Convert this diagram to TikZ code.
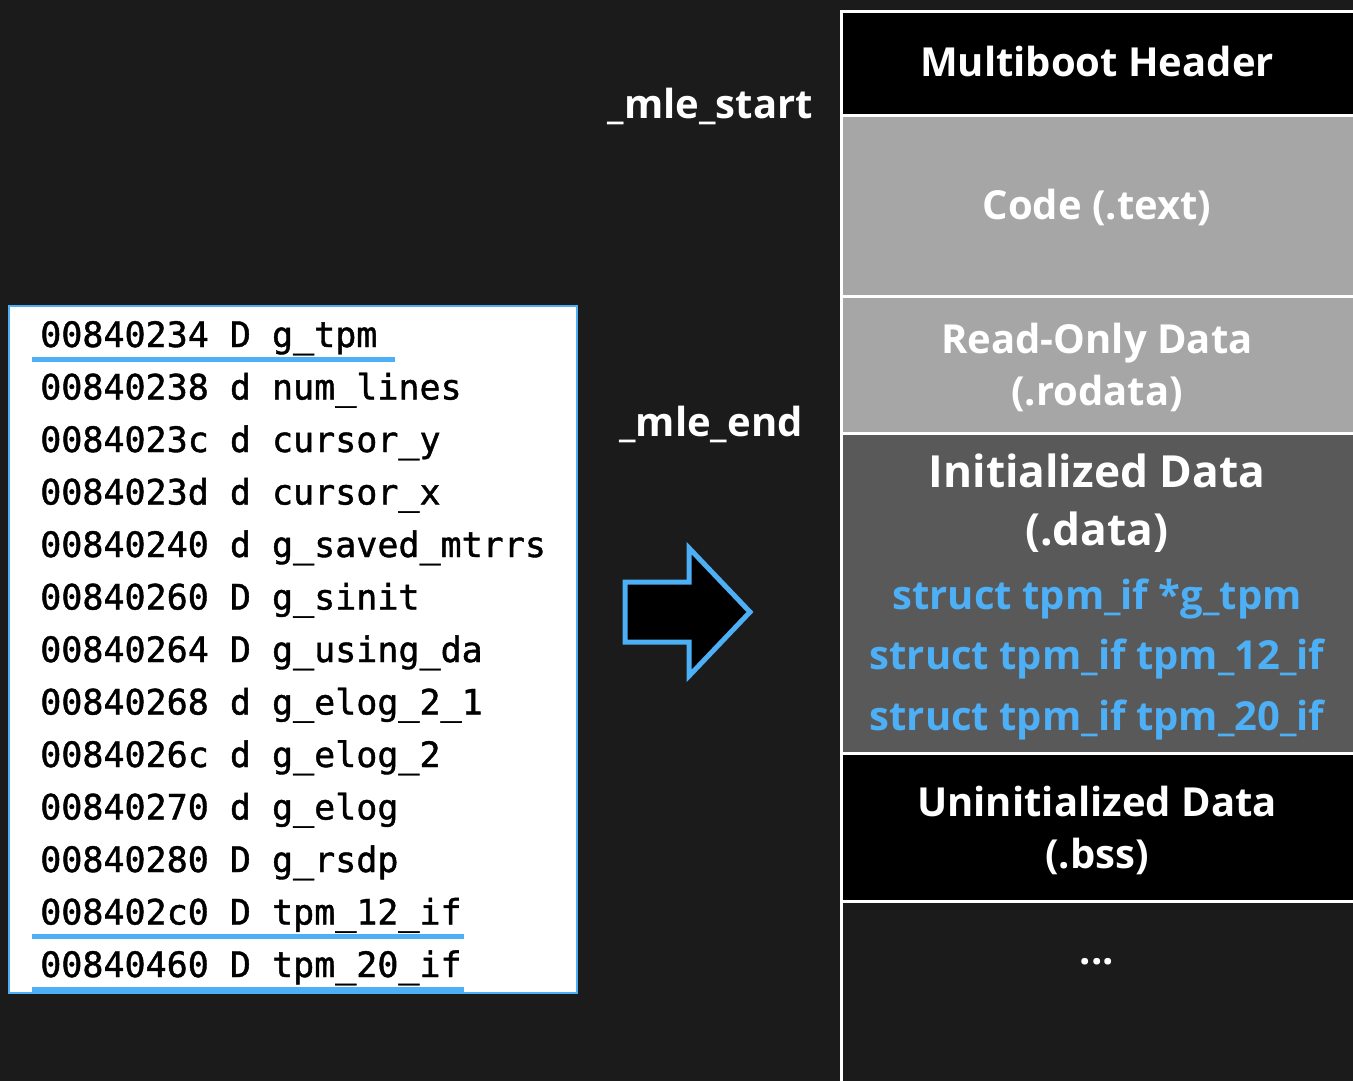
\documentclass[tikz,border=0pt]{standalone}
\usepackage{fontspec}
\setmainfont{Open Sans}
\setmonofont[FakeBold=1.2]{DejaVu Sans Mono}
\definecolor{bg}{HTML}{1B1B1B}
\definecolor{lightsec}{HTML}{A6A6A6}
\definecolor{midsec}{HTML}{595959}
\definecolor{accent}{HTML}{4DAFF5}
\begin{document}
\begin{tikzpicture}[x=0.75pt,y=-0.75pt,
  section/.style={draw=white,line width=2pt,anchor=north west,minimum width=530*0.75pt,inner sep=0pt},
  seclabel/.style={text=white,font=\bfseries\fontsize{30}{39}\selectfont,align=center,inner sep=0pt},
  biglabel/.style={text=white,font=\bfseries\fontsize{33.2}{43.5}\selectfont,align=center,inner sep=0pt},
  structlabel/.style={text=accent,font=\bfseries\fontsize{30}{36}\selectfont,inner sep=0pt},
  symrow/.style={anchor=base west,inner sep=0pt,font=\ttfamily\fontsize{26.25}{30}\selectfont},
  hilite/.style={draw=accent,line width=3.75pt},
  addr/.style={text=white,font=\bfseries\fontsize{30}{36}\selectfont,inner sep=0pt}]
\useasboundingbox (0,0) rectangle (1353,1081);
\fill[bg] (0,0) rectangle (1353,1081);

% memory layout column
\begin{scope}
\clip (0,0) rectangle (1353,1081);
\node[section,fill=black,minimum height=104*0.75pt] (mbh) at (840,10) {};
\node[section,fill=lightsec,minimum height=181*0.75pt] (text) at (840,114) {};
\node[section,fill=lightsec,minimum height=137*0.75pt] (rodata) at (840,295) {};
\node[section,fill=midsec,minimum height=320*0.75pt] (data) at (840,432) {};
\node[section,fill=black,minimum height=148*0.75pt] (bss) at (840,752) {};
\node[section,fill=bg,minimum height=200*0.75pt] (rest) at (840,900) {};
\end{scope}

\node[seclabel] (mbhlbl) at (1097,62) {Multiboot Header};
\node[seclabel] (textlbl) at (1097,207) {Code (.text)};
\node[seclabel] (rodatalbl) at (1097,367) {Read-Only Data\\(.rodata)};
\node[biglabel] (datalbl) at (1097,503) {Initialized Data\\(.data)};
\node[structlabel] (s1) at (1097,599) {struct tpm\_if *g\_tpm};
\node[structlabel] (s2) at (1097,659) {struct tpm\_if tpm\_12\_if};
\node[structlabel] (s3) at (1097,720) {struct tpm\_if tpm\_20\_if};
\node[seclabel] (bsslbl) at (1097,830) {Uninitialized Data\\(.bss)};
\node[seclabel] (dots) at (1097,962) {...};

% symbol addresses
\node[addr,anchor=east] (mlestart) at (813,106) {\_mle\_start};
\node[addr] (mleend) at (711,424) {\_mle\_end};

% symbol table excerpt
\node[draw=accent,line width=1.5pt,fill=white,anchor=north west,
      minimum width=568*0.75pt,minimum height=687*0.75pt,inner sep=0pt] (symtab) at (8,305) {};
\foreach \i/\t in {0/00840234 D g\_tpm,1/00840238 d num\_lines,2/0084023c d cursor\_y,
  3/0084023d d cursor\_x,4/00840240 d g\_saved\_mtrrs,5/00840260 D g\_sinit,
  6/00840264 D g\_using\_da,7/00840268 d g\_elog\_2\_1,8/0084026c d g\_elog\_2,
  9/00840270 d g\_elog,10/00840280 D g\_rsdp,11/008402c0 D tpm\_12\_if,12/00840460 D tpm\_20\_if}
  \node[symrow] (row\i) at (40,{347+52.5*\i}) {\t};
\coordinate (u0a) at (32,359);  \coordinate (u0b) at (395,359);
\coordinate (u1a) at (32,936);  \coordinate (u1b) at (464,936);
\coordinate (u2a) at (32,989);  \coordinate (u2b) at (464,989);
\draw[hilite] (u0a) -- (u0b);
\draw[hilite] (u1a) -- (u1b);
\draw[hilite] (u2a) -- (u2b);

% block arrow
\draw[draw=accent,fill=black,line width=3.75pt,line join=miter]
  (625,582) -- (689,582) -- (689,548) -- (750,612) -- (689,676) -- (689,642) -- (625,642) -- cycle;
\end{tikzpicture}
\end{document}
